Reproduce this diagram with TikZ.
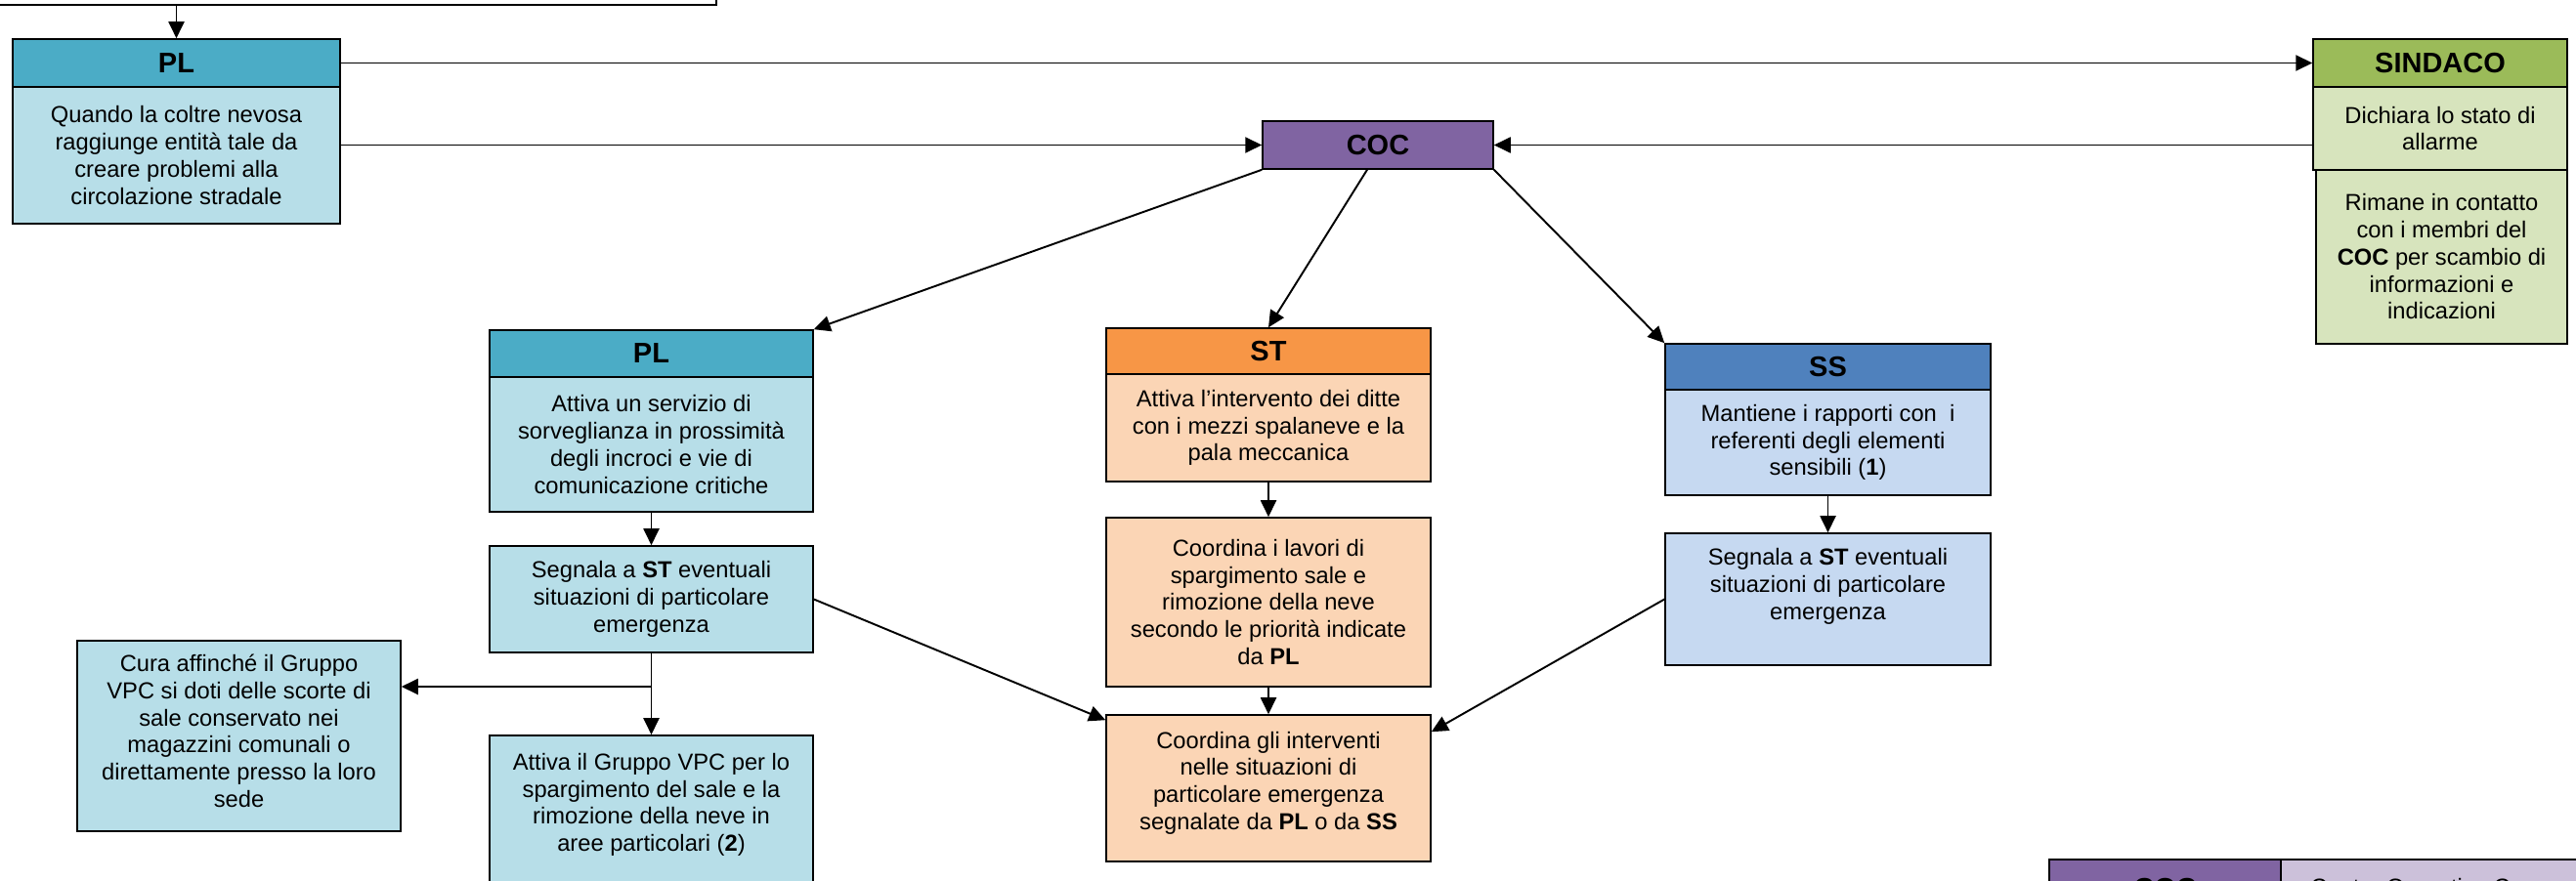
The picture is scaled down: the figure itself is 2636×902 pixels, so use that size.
\documentclass[tikz,border=0pt]{standalone}
\usepackage{fontspec}
\setmainfont{Liberation Sans}
\usetikzlibrary{arrows.meta}

\definecolor{plhead}{HTML}{4BACC6}
\definecolor{plbody}{HTML}{B7DEE8}
\definecolor{cochead}{HTML}{8064A2}
\definecolor{cocbody}{HTML}{CCC1DA}
\definecolor{sindhead}{HTML}{9BBB59}
\definecolor{sindbody}{HTML}{D7E4BD}
\definecolor{sthead}{HTML}{F79646}
\definecolor{stbody}{HTML}{FBD5B5}
\definecolor{sshead}{HTML}{4F81BD}
\definecolor{ssbody}{HTML}{C6D9F1}

% extra depth below the last line, pushes the text up in its box
\newcommand{\lowpad}[1]{\rule[-#1]{0pt}{#1}}

\begin{document}
\begin{tikzpicture}[
        x = 0.02cm, y = -0.02cm,
        font = \fontsize{13.5}{15.8}\selectfont,
        hbox/.style = {draw, line width=0.9pt, inner sep=0pt,
            font=\fontsize{16.5}{19}\selectfont\bfseries},
        tbox/.style = {draw, line width=0.9pt, align=center, inner sep=0pt},
        conn/.style = {-{Triangle[length=0.34cm, width=0.32cm]}, line width=1.1pt}
    ]
        \useasboundingbox (0,0) rectangle (2636,902);
        \clip (0,0) rectangle (2636,902);

        % box above, cut off by the page
        \node[tbox, fill=white, minimum width=15.06cm, minimum height=1.3cm] (intro) at (356.5,-27.5) {};

        \begin{scope}[shift={(180.5,0)}]
            \node[hbox, fill=plhead, minimum width=6.7cm, minimum height=0.98cm] (plh) at (0,64.5) {PL};
            \node[tbox, fill=plbody, minimum width=6.7cm, minimum height=2.8cm] (plb) at (0,159)
                {Quando la coltre nevosa\\raggiunge entità tale da\\creare problemi alla\\circolazione stradale};
        \end{scope}

        \node[hbox, fill=cochead, minimum width=4.72cm, minimum height=0.98cm] (coc) at (1410,148.5) {COC};

        \begin{scope}[shift={(2497,0)}]
            \node[hbox, fill=sindhead, minimum width=5.2cm, minimum height=0.98cm] (sindh) at (0,64.5) {SINDACO};
            \node[tbox, fill=sindbody, minimum width=5.2cm, minimum height=1.7cm] (sindb) at (0,131.5)
                {Dichiara lo stato di\\allarme};
            \node[tbox, fill=sindbody, minimum width=5.14cm, minimum height=3.56cm] (sindc) at (1.5,263)
                {Rimane in contatto\\con i membri del\\\textbf{COC} per scambio di\\informazioni e\\indicazioni};
        \end{scope}

        \begin{scope}[shift={(244.5,0)}]
            \node[tbox, fill=plbody, minimum width=6.62cm, minimum height=3.9cm] (cura) at (0,753.5)
                {Cura affinché il Gruppo\\VPC si doti delle scorte di\\sale conservato nei\\magazzini comunali o\\direttamente presso la loro\\sede\lowpad{6pt}};
        \end{scope}

        \begin{scope}[shift={(666.5,0)}]
            \node[hbox, fill=plhead, minimum width=6.62cm, minimum height=0.96cm] (plh2) at (0,362) {PL};
            \node[tbox, fill=plbody, minimum width=6.62cm, minimum height=2.76cm] (plb2) at (0,455)
                {Attiva un servizio di\\sorveglianza in prossimità\\degli incroci e vie di\\comunicazione critiche};
            \node[tbox, fill=plbody, minimum width=6.62cm, minimum height=2.18cm] (plsegn) at (0,613.5)
                {Segnala a \textbf{ST} eventuali\\situazioni di particolare\\emergenza};
            \node[tbox, fill=plbody, minimum width=6.62cm, minimum height=3.54cm] (plvpc) at (0,841.5)
                {Attiva il Gruppo VPC per lo\\spargimento del sale e la\\rimozione della neve in\\aree particolari (\textbf{2})\lowpad{23pt}};
            \coordinate (split) at (0,703);
        \end{scope}

        \begin{scope}[shift={(1298,0)}]
            \node[hbox, fill=sthead, minimum width=6.64cm, minimum height=0.94cm] (sth) at (0,359.5) {ST};
            \node[tbox, fill=stbody, minimum width=6.64cm, minimum height=2.2cm] (stb) at (0,438)
                {Attiva l’intervento dei ditte\\con i mezzi spalaneve e la\\pala meccanica};
            \node[tbox, fill=stbody, minimum width=6.64cm, minimum height=3.46cm] (stcoord) at (0,616.5)
                {Coordina i lavori di\\spargimento sale e\\rimozione della neve\\secondo le priorità indicate\\da \textbf{PL}};
            \node[tbox, fill=stbody, minimum width=6.64cm, minimum height=3.0cm] (stemerg) at (0,807)
                {Coordina gli interventi\\nelle situazioni di\\particolare emergenza\\segnalate da \textbf{PL} o da \textbf{SS}\lowpad{9pt}};
        \end{scope}

        \begin{scope}[shift={(1870.5,0)}]
            \node[hbox, fill=sshead, minimum width=6.66cm, minimum height=0.94cm] (ssh) at (0,375.5) {SS};
            \node[tbox, fill=ssbody, minimum width=6.66cm, minimum height=2.16cm] (ssb) at (0,453)
                {Mantiene i rapporti con~ i\\referenti degli elementi\\sensibili (\textbf{1})};
            \node[tbox, fill=ssbody, minimum width=6.66cm, minimum height=2.7cm] (sssegn) at (0,613.5)
                {Segnala a \textbf{ST} eventuali\\situazioni di particolare\\emergenza\lowpad{17.6pt}};
        \end{scope}

        % legenda, cut off by the page
        \node[hbox, fill=cochead, minimum width=4.74cm, minimum height=1.2cm] (legcoc) at (2215.5,910) {COC};
        \node[tbox, fill=cocbody, minimum width=7.12cm, minimum height=1.2cm] (legtext) at (2512,910) {Centro Operativo Comunale};

        % connectors
        \draw[conn] (plh.north |- intro.south) -- (plh.north);
        \draw[conn] (plh.east) -- (sindh.west);
        \draw[conn] (plb.east |- coc.west) -- (coc.west);
        \draw[conn] (sindb.west |- coc.east) -- (coc.east);
        \draw[conn] (coc.south west) -- (plh2.north east);
        \draw[conn] ([xshift=-0.22cm]coc.south) -- (sth.north);
        \draw[conn] (coc.south east) -- (ssh.north west);
        \draw[conn] (plb2.south) -- (plsegn.north);
        \draw[conn] (plsegn.south) -- (plvpc.north);
        \draw[conn] (split) -- (split -| cura.east);
        \draw[conn] (stb.south) -- (stcoord.north);
        \draw[conn] (stcoord.south) -- (stemerg.north);
        \draw[conn] (ssb.south) -- (sssegn.north);
        \draw[conn] (plsegn.east) -- ([yshift=-0.12cm]stemerg.north west);
        \draw[conn] (sssegn.west) -- ([yshift=-0.36cm]stemerg.north east);
    \end{tikzpicture}
\end{document}
